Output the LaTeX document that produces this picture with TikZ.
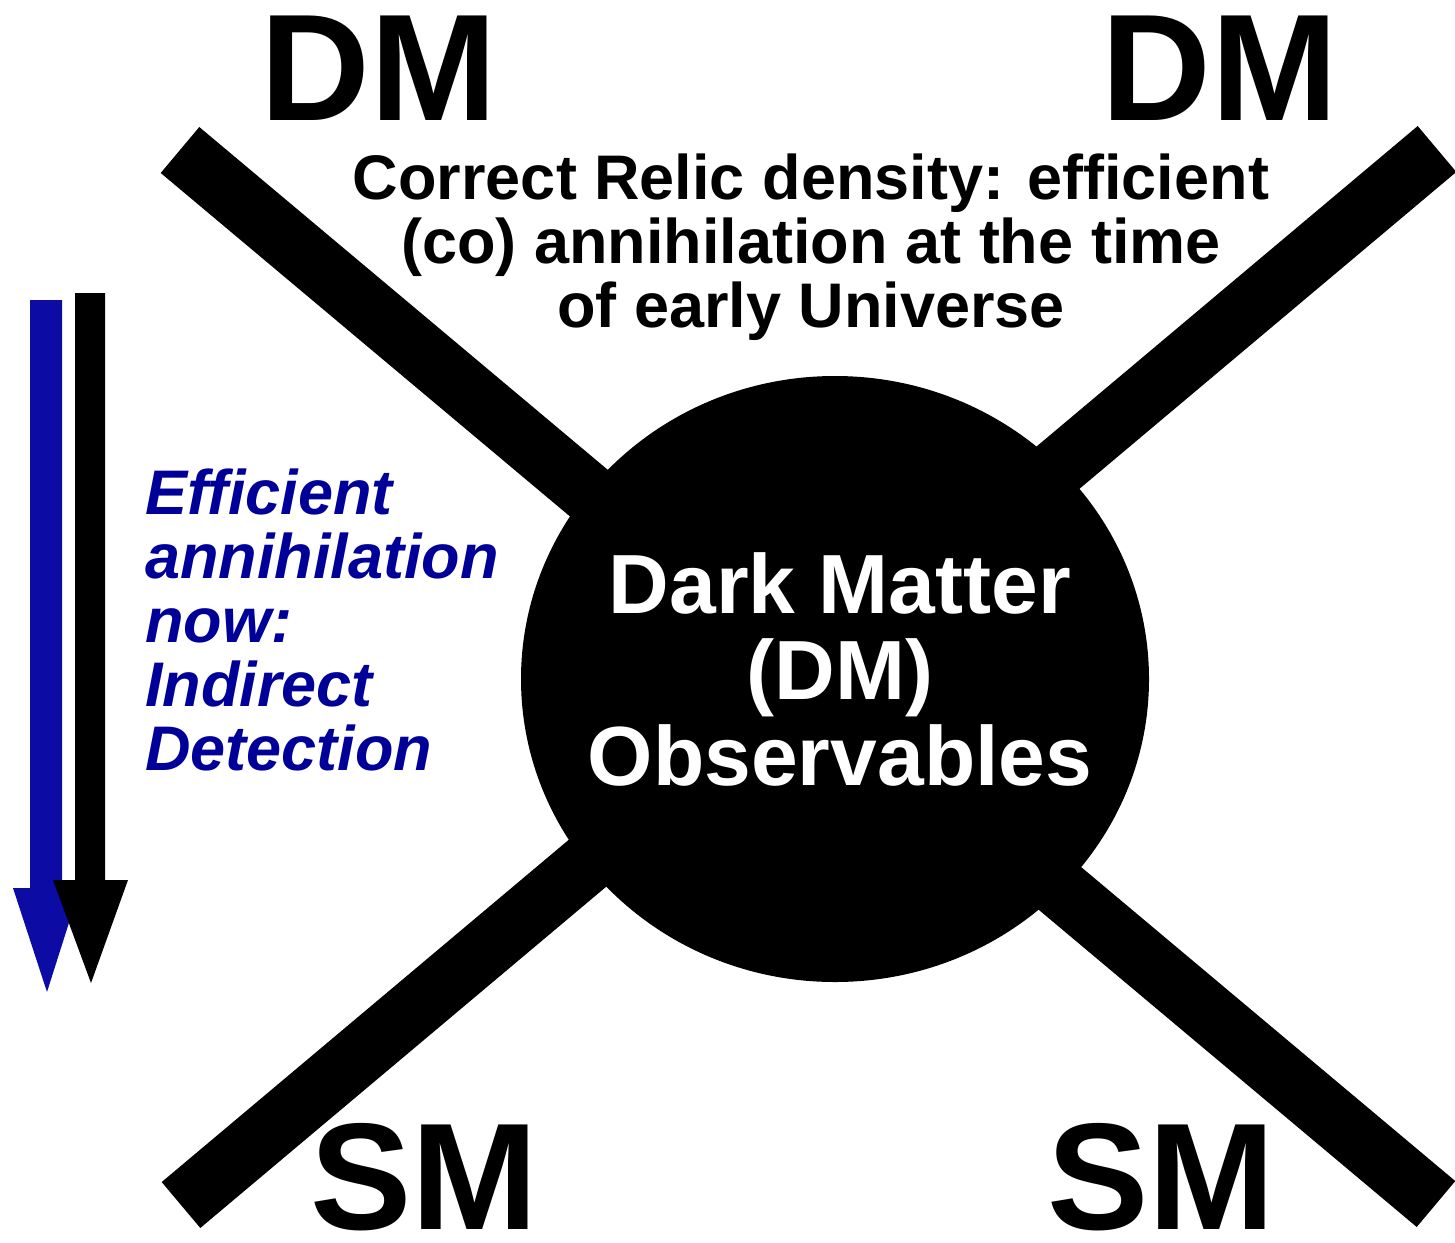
\documentclass[tikz,border=0pt]{standalone}
\usepackage{fontspec}
\setmainfont{Liberation Sans}
\usetikzlibrary{shapes.geometric}
\definecolor{txtblue}{RGB}{0,0,153}
\definecolor{arrblue}{RGB}{12,12,165}
\begin{document}
\begin{tikzpicture}[x=1pt,y=-1pt,
  bar/.style={line width=60pt, line cap=butt},
  big/.style={font=\fontsize{152}{152}\selectfont\bfseries, inner sep=0pt, anchor=base},
  relic/.style={font=\fontsize{63}{64}\selectfont\bfseries, align=center, anchor=north, inner sep=0pt},
  idtext/.style={font=\fontsize{63}{64}\selectfont\bfseries\itshape, text=txtblue, align=left, anchor=north west, inner sep=0pt},
  blob/.style={ellipse, fill=black, minimum width=628pt, minimum height=606pt, inner sep=0pt},
  blobtext/.style={font=\fontsize{84}{86}\selectfont\bfseries, text=white, align=center, anchor=north, inner sep=0pt}]
\useasboundingbox (0,0) rectangle (1455,1242);
% bar end points
\coordinate (tl) at (180,150);
\coordinate (tr) at (1437,149);
\coordinate (bl) at (181,1205);
\coordinate (br) at (1436,1204);
\draw[bar] (tl) -- (br);
\draw[bar] (tr) -- (bl);
% central blob
\node[blob] (dm) at (835,679) {};
\node[blobtext] (dmtext) at (840,552) {Dark Matter\\(DM)\\Observables};
% corner labels
\node[big] (dm1) at (379,120) {DM};
\node[big] (dm2) at (1220,120) {DM};
\node[big] (sm1) at (424,1229) {SM};
\node[big] (sm2) at (1161,1229) {SM};
% top text
\node[relic] (relictext) at (811,154) {Correct Relic density: efficient\\(co) annihilation at the time\\of early Universe};
% left text
\node[idtext] (idt) at (145,469) {Efficient\\annihilation\\now:\\Indirect\\Detection};
% arrows
\fill[arrblue] (30,300) -- (62,300) -- (62,888) -- (80,888) -- (47,992) -- (13,888) -- (30,888) -- cycle;
\fill[black] (75,293) -- (105,293) -- (105,880) -- (128,880) -- (91,983) -- (53,880) -- (75,880) -- cycle;
\end{tikzpicture}
\end{document}
